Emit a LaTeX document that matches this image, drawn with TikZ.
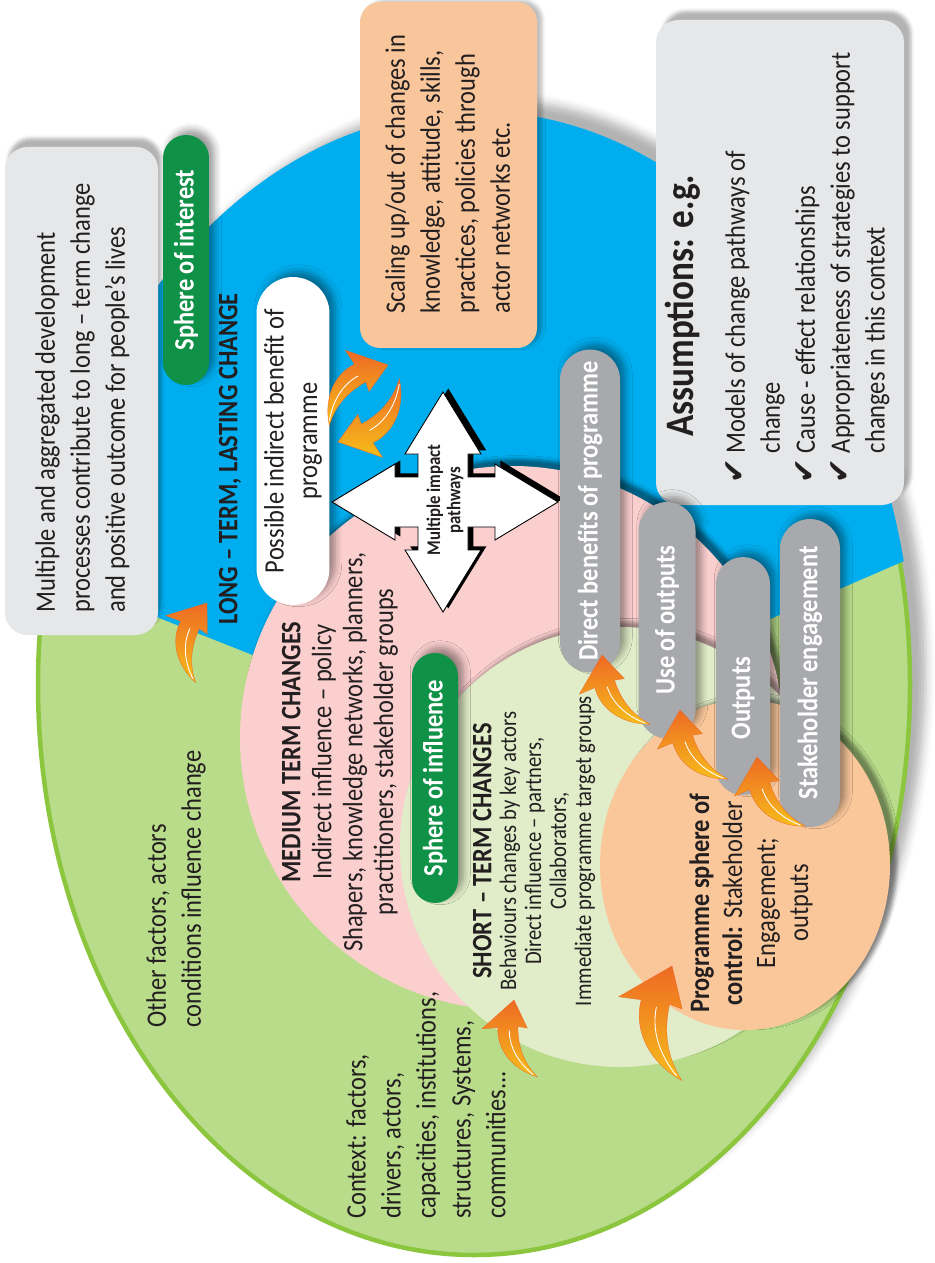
\documentclass[tikz,border=0pt]{standalone}
\usepackage{fontspec}
\setmainfont{Carlito}[FakeStretch=0.87]
\newfontfamily\symfont{DejaVu Sans}
\usetikzlibrary{shapes.misc,shadows.blur}

\definecolor{outergreen}{HTML}{B8DC8A}
\definecolor{rimgreen}{HTML}{8CC63F}
\definecolor{skyblue}{HTML}{00AEEF}
\definecolor{mediumpink}{HTML}{FACFCE}
\definecolor{shortgreen}{HTML}{E1EDC9}
\definecolor{controlorange}{HTML}{FAC79B}
\definecolor{pillgray}{HTML}{A7A9AC}
\definecolor{pillgreen}{HTML}{0F9147}
\definecolor{boxgray}{HTML}{E6E7E8}
\definecolor{boxorange}{HTML}{F9C59B}
\definecolor{inkdark}{HTML}{231F20}
\definecolor{arrowred}{HTML}{EE6A24}
\definecolor{arrowyellow}{HTML}{F6BE1A}

\newcommand\chk{{\symfont\fontsize{17}{19.9}\selectfont ✔}}

\tikzset{
  softshadow/.style={blur shadow={shadow xshift=3pt, shadow yshift=3pt, shadow opacity=40, shadow blur radius=4pt}},
  bodytext/.style={rotate=90, inner sep=0pt, text=inkdark, font=\fontsize{16}{19.9}\selectfont},
  headtext/.style={bodytext, font=\bfseries\fontsize{16}{19.9}\selectfont},
  pill/.style={rounded rectangle, rotate=90, inner sep=0pt, text=white, softshadow,
    font=\bfseries\fontsize{16}{18}\selectfont},
  pilltext/.style={rotate=90, inner sep=0pt, text=white, font=\bfseries\fontsize{16}{18}\selectfont},
  curlarrow/.pic={
    \shade[top color=arrowred, bottom color=arrowyellow, draw=arrowred, line width=0.2pt]
      (0,0) -- (14,26) -- (5,25) .. controls (6,45) and (13,60) .. (26,72)
      .. controls (2,66) and (-14,48) .. (-14,27) -- (-29,29) -- cycle;
    \draw[white, line width=0.5pt] (-3,29) .. controls (-2,46) and (8,60) .. (22,70);
  }
}

\begin{document}
\begin{tikzpicture}[x=0.02cm, y=-0.02cm]
  \useasboundingbox (0,0) rectangle (934,1263);

  % outer sphere of interest
  \path[fill=outergreen, draw=rimgreen, line width=0.09cm,
    blur shadow={shadow xshift=9pt, shadow yshift=9pt, shadow opacity=30, shadow blur radius=5pt}]
    (474,685) ellipse [x radius=436, y radius=570];
  \begin{scope}
    \clip (474,685) ellipse [x radius=440, y radius=574];
    \fill[skyblue] (480,745) -- (0,555) -- (0,0) -- (934,0) -- (934,548) -- cycle;
  \end{scope}

  % boxes
  \path[fill=boxgray, rounded corners=0.45cm,
    blur shadow={shadow xshift=2pt, shadow yshift=5pt, shadow opacity=30}] (5,147) rectangle (158,635);
  \path[fill=boxgray, rounded corners=0.45cm,
    blur shadow={shadow xshift=4pt, shadow yshift=5pt, shadow opacity=30}] (656,20) rectangle (904,505);
  \path[fill=boxorange, rounded corners=0.4cm,
    blur shadow={shadow xshift=3pt, shadow yshift=1pt, shadow opacity=25}] (360,2) rectangle (537,348);

  % spheres
  \path[fill=mediumpink, blur shadow={shadow xshift=3pt, shadow yshift=4pt, shadow opacity=45}]
    (512,738) circle [radius=272];
  \path[fill=shortgreen, blur shadow={shadow xshift=3pt, shadow yshift=3pt, shadow opacity=35}]
    (620,847) circle [radius=220];
  \path[fill=controlorange, blur shadow={shadow xshift=4pt, shadow yshift=2pt, shadow opacity=40}]
    (745,865) ellipse [x radius=145, y radius=165];

  % pathways cross
  \draw[fill=white, line width=0.5pt,
    preaction={fill=black, transform canvas={xshift=3pt, yshift=2pt}}]
    (443,392) -- (481,454) -- (468,454) -- (468,477) -- (495,477) -- (495,464) -- (558,502)
    -- (495,540) -- (495,527) -- (468,527) -- (468,550) -- (481,550) -- (443,612)
    -- (405,550) -- (418,550) -- (418,527) -- (395,527) -- (395,540) -- (332,502)
    -- (395,464) -- (395,477) -- (418,477) -- (418,454) -- (405,454) -- cycle;
  \node[headtext, font=\bfseries\fontsize{11}{11.6}\selectfont, align=center] (pathways)
    at (445,500) {Multiple impact\\pathways};

  % pills
  \node[pill, fill=white, text=inkdark, font=\fontsize{16}{19}\selectfont, align=center,
    minimum width=6.56cm, minimum height=1.46cm] (indirect) at (293,441)
    {Possible indirect benefit of\\programme};
  \node[pill, fill=pillgray, minimum width=6.46cm, minimum height=1.2cm] (direct) at (590,511)
    {Direct benefits of programme};
  \node[pill, fill=pillgray, minimum width=4.72cm, minimum height=1.14cm] (useout) at (667,620)
    {Use of outputs};
  \node[pill, fill=pillgray, minimum width=4.76cm, minimum height=1.08cm] (outputs) at (743,676) {};
  \node[pilltext] (outlabel) at (743,698) {Outputs};
  \node[pill, fill=pillgray, minimum width=6.16cm, minimum height=1.2cm] (stake) at (810,673)
    {Stakeholder engagement};
  \node[pill, fill=pillgreen, minimum width=5cm, minimum height=0.92cm] (interest) at (186,260)
    {Sphere of interest};
  \node[pill, fill=pillgreen, minimum width=5cm, minimum height=0.92cm] (influence) at (435,778)
    {Sphere of influence};

  % curved arrows
  \pic[rotate=-64, scale=1.1] at (388,365) {curlarrow};
  \pic[rotate=116, scale=1.15] at (338,442) {curlarrow};
  \pic[rotate=-28, scale=1.05] at (207,603) {curlarrow};
  \pic[rotate=15, scale=1.1] at (602,655) {curlarrow};
  \pic[rotate=15, scale=1.1] at (680,710) {curlarrow};
  \pic[rotate=15, scale=1.1] at (757,757) {curlarrow};
  \pic[rotate=-3, scale=1.05] at (514,1000) {curlarrow};
  \pic[rotate=-15, scale=1.5] at (672,966) {curlarrow};

  % texts
  \node[bodytext, align=left, anchor=north west] (aggregate) at (35,613)
    {Multiple and aggregated development\\processes contribute to long – term change\\and positive outcome for people’s lives};
  \node[headtext, anchor=west] (longterm) at (230,625) {LONG – TERM, LASTING CHANGE};
  \node[bodytext, align=left, anchor=north west] (scaling) at (385,314)
    {Scaling up/out of changes in\\knowledge, attitude, skills,\\practices, policies through\\actor networks etc.};
  \node[headtext, font=\bfseries\fontsize{23}{26}\selectfont, anchor=west] (assume) at (683,437)
    {Assumptions: e.g.};
  \node[bodytext, align=left, anchor=north west] (assumelist) at (725,484)
    {\chk\ Models of change pathways of\\\hphantom{\chk\ }change\\\chk\ Cause - effect relationships\\%
     \chk\ Appropriateness of strategies to support\\\hphantom{\chk\ }changes in this context};
  \node[bodytext, font=\fontsize{16}{17.6}\selectfont, align=center] (medium) at (340,752)
    {\textbf{MEDIUM TERM CHANGES}\\Indirect influence – policy\\Shapers, knowledge networks, planners,\\practitioners, stakeholder groups};
  \node[bodytext, font=\fontsize{13.5}{14.2}\selectfont, align=center] (short) at (534,851)
    {{\bfseries\fontsize{16}{14.2}\selectfont SHORT – TERM CHANGES}\\Behaviours changes by key actors\\Direct influence – partners,\\Collaborators,\\Immediate programme target groups};
  \node[bodytext, font=\fontsize{16}{18.8}\selectfont, align=center] (control) at (751,903)
    {\textbf{Programme sphere of}\\\textbf{control:} Stakeholder\\Engagement;\\outputs};
  \node[bodytext, align=left, anchor=north west] (others) at (146,1028)
    {Other factors, actors\\conditions influence change};
  \node[bodytext, align=left, anchor=north west] (context) at (346,1219)
    {Context: factors,\\drivers, actors,\\capacities, institutions,\\structures, Systems,\\communities...};
\end{tikzpicture}
\end{document}
